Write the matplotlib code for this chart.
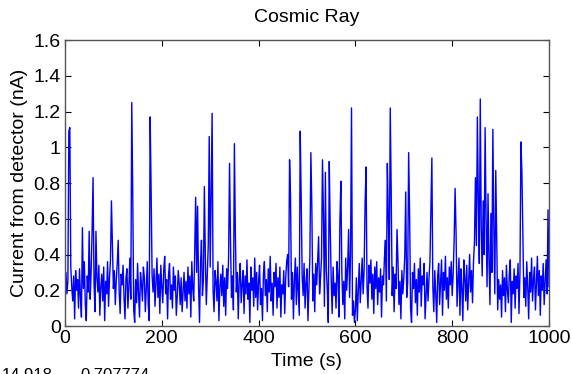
import numpy as np
import matplotlib
matplotlib.use("Agg")
import matplotlib.pyplot as plt

plt.rcParams['font.family'] = ['Liberation Sans', 'DejaVu Sans']

# detector current (nA), one reading every 2 s
current = [
    0.24, 0.30, 0.18, 0.25, 1.09, 1.11, 0.33, 0.22, 0.14, 0.28, 0.04, 0.31, 0.20, 0.26, 0.10, 0.32, 0.16, 0.05, 0.55, 0.21, 0.36, 0.12, 0.03, 0.28, 0.19,
    0.53, 0.15, 0.30, 0.53, 0.83, 0.24, 0.08, 0.53, 0.27, 0.19, 0.34, 0.06, 0.22, 0.29, 0.14, 0.33, 0.03, 0.25, 0.18, 0.36, 0.11, 0.27, 0.37, 0.70, 0.46,
    0.21, 0.31, 0.12, 0.26, 0.35, 0.48, 0.19, 0.07, 0.29, 0.23, 0.34, 0.16, 0.04, 0.27, 0.32, 0.10, 0.22, 0.38, 0.15, 1.25, 0.74, 0.09, 0.02, 0.26, 0.13,
    0.35, 0.18, 0.05, 0.30, 0.24, 0.14, 0.33, 0.27, 0.08, 0.21, 0.36, 0.12, 0.03, 1.17, 0.75, 0.28, 0.19, 0.32, 0.11, 0.25, 0.38, 0.16, 0.29, 0.07, 0.34,
    0.22, 0.13, 0.31, 0.39, 0.18, 0.26, 0.04, 0.29, 0.35, 0.15, 0.23, 0.10, 0.33, 0.20, 0.28, 0.06, 0.17, 0.31, 0.24, 0.12, 0.27, 0.08, 0.19, 0.30, 0.14,
    0.25, 0.10, 0.33, 0.18, 0.28, 0.05, 0.36, 0.21, 0.14, 0.41, 0.72, 0.30, 0.67, 0.22, 0.02, 0.35, 0.48, 0.17, 0.26, 0.78, 0.38, 0.12, 0.29, 0.45, 1.06,
    0.33, 0.73, 1.19, 0.20, 0.08, 0.31, 0.25, 0.14, 0.36, 0.03, 0.22, 0.29, 0.17, 0.34, 0.11, 0.27, 0.06, 0.32, 0.21, 0.38, 0.91, 0.47, 0.16, 0.28, 0.09,
    1.02, 0.52, 0.19, 0.30, 0.04, 0.26, 0.35, 0.13, 0.23, 0.31, 0.07, 0.28, 0.18, 0.37, 0.15, 0.24, 0.02, 0.33, 0.20, 0.27, 0.11, 0.38, 0.16, 0.30, 0.09,
    0.25, 0.34, 0.12, 0.21, 0.03, 0.29, 0.36, 0.17, 0.26, 0.08, 0.32, 0.19, 0.39, 0.14, 0.24, 0.06, 0.30, 0.22, 0.35, 0.10, 0.27, 0.16, 0.33, 0.05, 0.23,
    0.18, 0.31, 0.07, 0.27, 0.36, 0.40, 0.22, 0.93, 0.72, 0.15, 0.30, 0.04, 0.26, 0.38, 0.12, 0.33, 0.20, 0.06, 1.09, 0.72, 0.28, 0.17, 0.35, 0.10, 0.24,
    0.32, 0.03, 0.21, 0.39, 0.97, 0.67, 0.14, 0.29, 0.08, 0.35, 0.23, 0.37, 0.50, 0.18, 0.27, 0.38, 0.93, 0.62, 0.11, 0.86, 0.31, 0.20, 0.02, 0.92, 0.55,
    0.26, 0.07, 0.33, 0.17, 0.24, 0.10, 0.36, 0.28, 0.05, 0.59, 0.81, 0.30, 0.12, 0.25, 0.04, 0.38, 0.20, 0.33, 0.54, 0.16, 0.40, 1.22, 0.06, 0.14, 0.02,
    0.09, 0.27, 0.03, 0.20, 0.35, 0.13, 0.26, 0.38, 0.18, 0.31, 0.68, 0.89, 0.22, 0.10, 0.34, 0.24, 0.37, 0.15, 0.29, 0.07, 0.33, 0.21, 0.36, 0.12, 0.27,
    0.19, 0.32, 0.05, 0.28, 0.23, 0.38, 0.48, 0.14, 0.91, 0.62, 0.26, 1.22, 0.75, 0.17, 0.33, 0.08, 0.29, 0.21, 0.54, 0.36, 0.12, 0.25, 0.04, 0.31, 0.18,
    0.27, 0.39, 0.75, 0.16, 0.24, 0.97, 0.63, 0.10, 0.02, 0.30, 0.21, 0.35, 0.13, 0.26, 0.06, 0.32, 0.19, 0.38, 0.11, 0.28, 0.23, 0.35, 0.04, 0.17, 0.30,
    0.14, 0.26, 0.36, 0.66, 0.94, 0.22, 0.08, 0.31, 0.18, 0.02, 0.28, 0.35, 0.12, 0.24, 0.37, 0.06, 0.30, 0.20, 0.39, 0.15, 0.27, 0.10, 0.33, 0.23, 0.36,
    0.17, 0.29, 0.48, 0.77, 0.52, 0.11, 0.25, 0.38, 0.06, 0.32, 0.21, 0.03, 0.37, 0.27, 0.14, 0.34, 0.09, 0.24, 0.40, 0.19, 0.31, 0.13, 0.36, 0.47, 0.83,
    0.45, 1.17, 0.70, 0.35, 1.27, 0.56, 0.28, 0.70, 0.40, 1.11, 0.60, 0.22, 0.74, 0.37, 0.12, 0.63, 0.30, 1.10, 0.55, 0.18, 0.87, 0.50, 0.09, 0.26, 0.15,
    0.23, 0.05, 0.31, 0.17, 0.27, 0.08, 0.34, 0.20, 0.13, 0.29, 0.37, 0.02, 0.25, 0.18, 0.32, 0.10, 0.28, 0.21, 0.35, 0.07, 0.30, 1.03, 0.86, 0.52, 0.16,
    0.27, 0.11, 0.36, 0.22, 0.04, 0.30, 0.19, 0.38, 0.14, 0.26, 0.33, 0.09, 0.24, 0.39, 0.17, 0.31, 0.06, 0.28, 0.20, 0.35, 0.12, 0.25, 0.37, 0.18, 0.65,
    0.22,
]
sample_step = 2.0  # seconds between readings

x_ticks = [0, 200, 400, 600, 800, 1000]
y_ticks = [0, 0.2, 0.4, 0.6, 0.8, 1, 1.2, 1.4, 1.6]
y_tick_labels = ['0', '0.2', '0.4', '0.6', '0.8', '1', '1.2', '1.4', '1.6']

time_s = np.arange(len(current)) * sample_step

fig = plt.figure(figsize=(5.72, 3.74), dpi=100)
ax = fig.add_axes([0.1136, 0.1283, 0.8462, 0.7647])

ax.plot(time_s, current, color=(0, 0, 1), linewidth=1.0)

ax.set_xlim(0, 1000)
ax.set_ylim(0, 1.6)
ax.set_xticks(x_ticks)
ax.set_yticks(y_ticks)
ax.set_yticklabels(y_tick_labels)
ax.tick_params(direction='in', top=True, right=True, length=4, width=0.8,
               labelsize=14, colors='black', pad=3)
for sp in ax.spines.values():
    sp.set_color('#555555')
    sp.set_linewidth(1.0)

ax.set_title('Cosmic Ray', fontsize=14, pad=13)
ax.set_xlabel('Time (s)', fontsize=14, labelpad=4)
ax.set_ylabel('Current from detector (nA)', fontsize=14, labelpad=4)

# leftover datatip readout, clipped at the bottom edge
fig.text(2 / 572, -0.004, '14.918', fontsize=12, ha='left', va='center')
fig.text(80 / 572, -0.004, '0.707774', fontsize=12, ha='left', va='center')

fig.savefig('out.png', dpi=100)
